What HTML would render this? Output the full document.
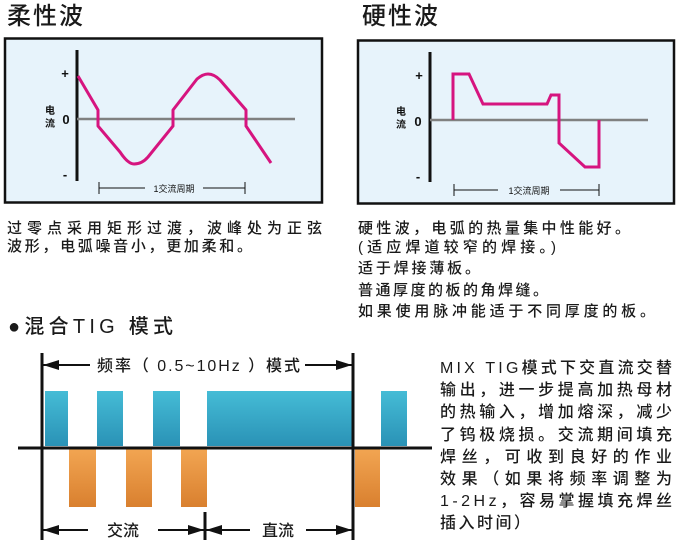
<!DOCTYPE html>
<html><head><meta charset="utf-8"><style>
html,body{margin:0;padding:0;background:#fff;}
svg{display:block;font-family:"Liberation Sans","Noto Sans CJK SC",sans-serif;}
</style></head><body>
<svg width="679" height="557" viewBox="0 0 679 557" xmlns="http://www.w3.org/2000/svg">
<defs>
<linearGradient id="bl" x1="0" y1="0" x2="0" y2="1"><stop offset="0" stop-color="#45bcd6"/><stop offset="1" stop-color="#2a92b6"/></linearGradient>
<linearGradient id="or" x1="0" y1="0" x2="0" y2="1"><stop offset="0" stop-color="#f2a552"/><stop offset="1" stop-color="#d9802f"/></linearGradient>
<marker id="ar2" markerWidth="16" markerHeight="10" refX="16" refY="5" orient="auto" markerUnits="userSpaceOnUse"><path d="M0,0 L16,5 L0,10 Z" fill="#111"/></marker>
</defs>

<text x="7" y="24" font-size="24" font-weight="500" fill="#1a1a1a" textLength="76">柔性波</text>
<text x="362" y="24" font-size="24" font-weight="500" fill="#1a1a1a" textLength="76">硬性波</text>

<rect x="5" y="38.5" width="317" height="164" fill="#e7f3fb" stroke="#111" stroke-width="2.5"/>
<line x1="77" y1="50" x2="77" y2="181" stroke="#111" stroke-width="3"/>
<line x1="77" y1="119" x2="295" y2="119" stroke="#808080" stroke-width="2.5"/>
<text x="65" y="78" font-size="13" font-weight="bold" text-anchor="middle" fill="#111">+</text>
<text x="66" y="124" font-size="13" font-weight="bold" text-anchor="middle" fill="#111">0</text>
<text x="65" y="179" font-size="13" font-weight="bold" text-anchor="middle" fill="#111">-</text>
<text x="50" y="114" font-size="10" font-weight="bold" text-anchor="middle" fill="#111">电</text>
<text x="50" y="127" font-size="10" font-weight="bold" text-anchor="middle" fill="#111">流</text>
<path d="M78,76 L98,110 L98,126 L120,152 Q128,164 134,164 Q142,164 148,157 L173,126 L173,110 L197,79 Q203,74 208,74 Q214,74 220,80 L246,110 L246,126 L271,163" fill="none" stroke="#d6147f" stroke-width="3" stroke-linejoin="round"/>
<line x1="99" y1="182" x2="99" y2="194" stroke="#111" stroke-width="1"/>
<line x1="245" y1="182" x2="245" y2="194" stroke="#111" stroke-width="1"/>
<line x1="99" y1="188" x2="145" y2="188" stroke="#111" stroke-width="1"/>
<line x1="203" y1="188" x2="245" y2="188" stroke="#111" stroke-width="1"/>
<text x="174" y="192" font-size="9" text-anchor="middle" fill="#111">1交流周期</text>

<rect x="358" y="40.5" width="316" height="163" fill="#e7f3fb" stroke="#111" stroke-width="2.5"/>
<line x1="430" y1="52" x2="430" y2="182" stroke="#111" stroke-width="3"/>
<line x1="430" y1="120" x2="648" y2="120" stroke="#808080" stroke-width="2.5"/>
<text x="419" y="80" font-size="13" font-weight="bold" text-anchor="middle" fill="#111">+</text>
<text x="418" y="126" font-size="13" font-weight="bold" text-anchor="middle" fill="#111">0</text>
<text x="418" y="181" font-size="13" font-weight="bold" text-anchor="middle" fill="#111">-</text>
<text x="401" y="115" font-size="10" font-weight="bold" text-anchor="middle" fill="#111">电</text>
<text x="401" y="128" font-size="10" font-weight="bold" text-anchor="middle" fill="#111">流</text>
<path d="M453,120 L453,74 L469,74 L483,104 L547,104 L551,95 L559,95 L559,143 L585,167 L599,167 L599,120" fill="none" stroke="#d6147f" stroke-width="3" stroke-linejoin="miter"/>
<line x1="454" y1="184" x2="454" y2="196" stroke="#111" stroke-width="1"/>
<line x1="599" y1="184" x2="599" y2="196" stroke="#111" stroke-width="1"/>
<line x1="454" y1="190" x2="498" y2="190" stroke="#111" stroke-width="1"/>
<line x1="560" y1="190" x2="599" y2="190" stroke="#111" stroke-width="1"/>
<text x="529" y="194" font-size="9" text-anchor="middle" fill="#111">1交流周期</text>

<g font-size="15" font-weight="500" fill="#1a1a1a">
<text x="7" y="233" textLength="315">过零点采用矩形过渡，波峰处为正弦</text>
<text x="7" y="251" textLength="245">波形，电弧噪音小，更加柔和。</text>
<text x="358" y="233" textLength="272">硬性波，电弧的热量集中性能好。</text>
<text x="358" y="252" textLength="198">(适应焊道较窄的焊接。)</text>
<text x="358" y="273" textLength="122">适于焊接薄板。</text>
<text x="358" y="295" textLength="190">普通厚度的板的角焊缝。</text>
<text x="358" y="316" textLength="297">如果使用脉冲能适于不同厚度的板。</text>
</g>

<text x="8" y="333" font-size="20" font-weight="500" fill="#1a1a1a" textLength="165">●混合TIG 模式</text>

<rect x="45" y="391" width="23" height="55" fill="url(#bl)"/>
<rect x="97" y="391" width="26" height="55" fill="url(#bl)"/>
<rect x="153" y="391" width="27" height="55" fill="url(#bl)"/>
<rect x="207" y="391" width="145" height="55" fill="url(#bl)"/>
<rect x="381" y="391" width="26" height="55" fill="url(#bl)"/>
<rect x="69" y="449" width="27" height="58" fill="url(#or)"/>
<rect x="126" y="449" width="26" height="58" fill="url(#or)"/>
<rect x="181" y="449" width="26" height="58" fill="url(#or)"/>
<rect x="355" y="449" width="25" height="58" fill="url(#or)"/>

<line x1="18" y1="448" x2="432" y2="448" stroke="#111" stroke-width="3"/>
<line x1="42" y1="353" x2="42" y2="540" stroke="#111" stroke-width="3"/>
<line x1="353" y1="353" x2="353" y2="540" stroke="#111" stroke-width="3"/>
<line x1="205" y1="512" x2="205" y2="540" stroke="#111" stroke-width="3"/>

<line x1="90" y1="365" x2="43" y2="365" stroke="#111" stroke-width="2" marker-end="url(#ar2)"/>
<line x1="305" y1="365" x2="352" y2="365" stroke="#111" stroke-width="2" marker-end="url(#ar2)"/>
<text x="97" y="371" font-size="16" font-weight="500" fill="#1a1a1a" textLength="203">频率（ 0.5~10Hz ）模式</text>

<line x1="88" y1="530" x2="43" y2="530" stroke="#111" stroke-width="2" marker-end="url(#ar2)"/>
<line x1="158" y1="530" x2="204" y2="530" stroke="#111" stroke-width="2" marker-end="url(#ar2)"/>
<text x="123" y="536" font-size="16" font-weight="500" text-anchor="middle" fill="#1a1a1a">交流</text>
<line x1="250" y1="530" x2="206" y2="530" stroke="#111" stroke-width="2" marker-end="url(#ar2)"/>
<line x1="306" y1="530" x2="352" y2="530" stroke="#111" stroke-width="2" marker-end="url(#ar2)"/>
<text x="278" y="536" font-size="16" font-weight="500" text-anchor="middle" fill="#1a1a1a">直流</text>

<g font-size="16" font-weight="500" fill="#1a1a1a">
<text x="440" y="373" textLength="232">MIX TIG模式下交直流交替</text>
<text x="440" y="395" textLength="232">输出，进一步提高加热母材</text>
<text x="440" y="417" textLength="232">的热输入，增加熔深，减少</text>
<text x="440" y="440" textLength="232">了钨极烧损。交流期间填充</text>
<text x="440" y="462" textLength="232">焊丝，可收到良好的作业</text>
<text x="440" y="484" textLength="232">效果（如果将频率调整为</text>
<text x="440" y="506" textLength="232">1-2Hz，容易掌握填充焊丝</text>
<text x="440" y="528" textLength="90">插入时间）</text>
</g>
</svg>
</body></html>
